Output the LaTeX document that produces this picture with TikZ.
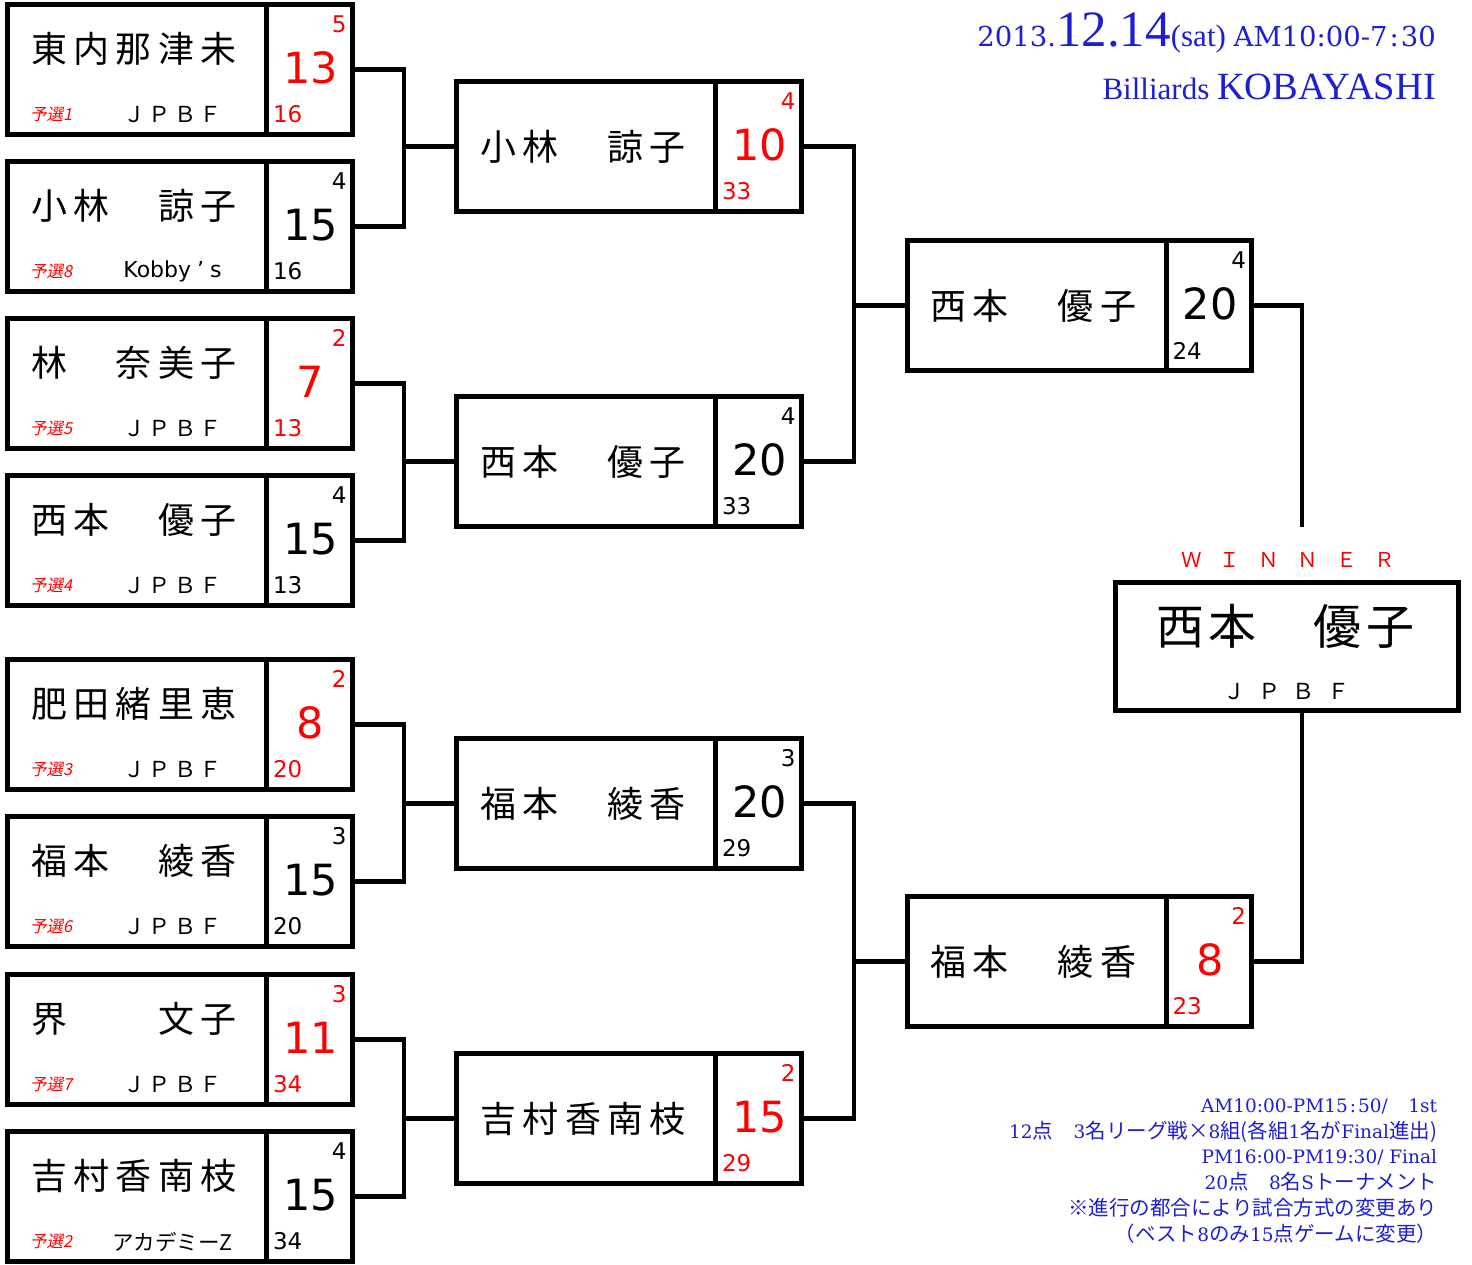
\documentclass[tikz,border=0pt]{standalone}
\usepackage{fontspec}
\setmainfont{Liberation Serif}
\newfontfamily\jp{Noto Sans CJK JP}
\newfontfamily\jpsl{Noto Sans CJK JP}[FakeSlant=0.2]
\newfontfamily\hs{DejaVu Serif}
\newfontfamily\dg{DejaVu Sans}
\usetikzlibrary{calc}
\definecolor{hred}{RGB}{255,0,0}
\definecolor{hblue}{RGB}{30,30,210}
\newcommand\fs[1]{\fontsize{#1}{#1}\selectfont}
\newcommand\nmcells[6]{\makebox[#1pt][l]{#2}\makebox[#1pt][l]{#3}\makebox[#1pt][l]{#4}\makebox[#1pt][l]{#5}\makebox[#1pt][l]{#6}}
\newcommand\lsp[5]{\makebox[#1pt]{#2}\makebox[#1pt]{#3}\makebox[#1pt]{#4}\makebox[#1pt]{#5}}
\tikzset{
  box/.style={draw, line width=5pt, inner sep=0pt, outer sep=0pt, minimum height=130pt},
  conn/.style={line width=4.5pt},
  txt/.style={inner sep=0pt, outer sep=0pt},
}
% #1 id, #2 left x, #3 top y, #4 name y offset, #5 name, #6 colour, #7 top num, #8 score, #9 bottom num
\newcommand\pB[9]{%
  \node[box, minimum width=259pt, anchor=north west] (#1) at (#2,#3) {};
  \node[box, minimum width=85.5pt, anchor=north west] (#1s) at (#2+259,#3) {};
  \node[txt, anchor=west, font=\jp\fs{36}] (#1n) at (#2+23.5,#3+#4) {#5};
  \node[txt, font=\dg\fs{43}, text=#6] (#1b) at (#2+303,#3+63.5) {#8};
  \node[txt, anchor=east, font=\dg\fs{23}, text=#6] (#1t) at (#2+339,#3+19.5) {#7};
  \node[txt, anchor=west, font=\dg\fs{23}, text=#6] (#1u) at (#2+265.5,#3+110) {#9};
}
% #1 id, #2 top, #3 name, #4 qualifier, #5 affiliation, #6 colour, #7 top, #8 score, #9 bottom
\newcommand\pA[9]{%
  \pB{#1}{7.5}{#2}{44}{#3}{#6}{#7}{#8}{#9}
  \node[txt, anchor=west, font=\jpsl\fs{16.5}, text=hred] (#1q) at (30,#2+110) {予選#4};
  \node[txt, font=\jp\fs{22}] (#1a) at (172.5,#2+110) {#5};
}
\begin{document}
\begin{tikzpicture}[x=1pt,y=-1pt]
\useasboundingbox (0,0) rectangle (1472,1265);
\fill[white] (0,0) rectangle (1472,1265);

% round 1
\pA{p1}{4.5}{\nmcells{42.5}{東}{内}{那}{津}{未}}{1}{\lsp{25.3}{Ｊ}{Ｐ}{Ｂ}{Ｆ}}{hred}{5}{13}{16}
\pA{p2}{161.5}{\nmcells{42.5}{小}{林}{　}{諒}{子}}{8}{\dg\fs{22}Kobby\makebox[19pt]{’}s}{black}{4}{15}{16}
\pA{p3}{318.5}{\nmcells{42.5}{林}{　}{奈}{美}{子}}{5}{\lsp{25.3}{Ｊ}{Ｐ}{Ｂ}{Ｆ}}{hred}{2}{7}{13}
\pA{p4}{475.5}{\nmcells{42.5}{西}{本}{　}{優}{子}}{4}{\lsp{25.3}{Ｊ}{Ｐ}{Ｂ}{Ｆ}}{black}{4}{15}{13}
\pA{p5}{659.5}{\nmcells{42.5}{肥}{田}{緒}{里}{恵}}{3}{\lsp{25.3}{Ｊ}{Ｐ}{Ｂ}{Ｆ}}{hred}{2}{8}{20}
\pA{p6}{816.5}{\nmcells{42.5}{福}{本}{　}{綾}{香}}{6}{\lsp{25.3}{Ｊ}{Ｐ}{Ｂ}{Ｆ}}{black}{3}{15}{20}
\pA{p7}{974.5}{\nmcells{42.5}{界}{　}{　}{文}{子}}{7}{\lsp{25.3}{Ｊ}{Ｐ}{Ｂ}{Ｆ}}{hred}{3}{11}{34}
\pA{p8}{1131.5}{\nmcells{42.5}{吉}{村}{香}{南}{枝}}{2}{\fs{21.5}アカデミーZ}{black}{4}{15}{34}

% round 2
\pB{q1}{456.5}{81.5}{65}{\nmcells{42.5}{小}{林}{　}{諒}{子}}{hred}{4}{10}{33}
\pB{q2}{456.5}{396.5}{65}{\nmcells{42.5}{西}{本}{　}{優}{子}}{black}{4}{20}{33}
\pB{q3}{456.5}{738.5}{65}{\nmcells{42.5}{福}{本}{　}{綾}{香}}{black}{3}{20}{29}
\pB{q4}{456.5}{1053.5}{65}{\nmcells{42.5}{吉}{村}{香}{南}{枝}}{hred}{2}{15}{29}

% round 3
\pB{r1}{907}{240.5}{65}{\nmcells{42.5}{西}{本}{　}{優}{子}}{black}{4}{20}{24}
\pB{r2}{907}{896.5}{65}{\nmcells{42.5}{福}{本}{　}{綾}{香}}{hred}{2}{8}{23}

% winner
\node[box, minimum width=343pt, minimum height=128pt, anchor=north west] (w) at (1115,582) {};
\node[txt, anchor=west, font=\jp\fs{48}] (wn) at (1156,626) {\nmcells{52.5}{西}{本}{　}{優}{子}};
\node[txt, font=\jp\fs{22}] (wa) at (1286.5,692) {\lsp{34.7}{Ｊ}{Ｐ}{Ｂ}{Ｆ}};
\node[txt, font=\jp\fs{20.5}, text=hred] (wl) at (1288.3,560) {\makebox[38.7pt]{Ｗ}\makebox[38.7pt]{Ｉ}\makebox[38.7pt]{Ｎ}\makebox[38.7pt]{Ｎ}\makebox[38.7pt]{Ｅ}\makebox[38.7pt]{Ｒ}};

% connectors
\coordinate (j1) at ($(q1.west)+(-52.5,0)$);
\coordinate (j2) at ($(q2.west)+(-52.5,0)$);
\coordinate (j3) at ($(q3.west)+(-52.5,0)$);
\coordinate (j4) at ($(q4.west)+(-52.5,0)$);
\coordinate (k1) at ($(r1.west)+(-53,0)$);
\coordinate (k2) at ($(r2.west)+(-53,0)$);
\coordinate (wt) at (1302,527);
\draw[conn] (p1s.east) -| (j1) |- (p2s.east); \draw[conn] (j1) -- (q1.west);
\draw[conn] (p3s.east) -| (j2) |- (p4s.east); \draw[conn] (j2) -- (q2.west);
\draw[conn] (p5s.east) -| (j3) |- (p6s.east); \draw[conn] (j3) -- (q3.west);
\draw[conn] (p7s.east) -| (j4) |- (p8s.east); \draw[conn] (j4) -- (q4.west);
\draw[conn] (q1s.east) -| (k1) |- (q2s.east); \draw[conn] (k1) -- (r1.west);
\draw[conn] (q3s.east) -| (k2) |- (q4s.east); \draw[conn] (k2) -- (r2.west);
\draw[conn] (r1s.east) -| (wt);
\draw[conn] (w.south -| wt) |- (r2s.east);

% header
\node[txt, anchor=base east, text=hblue] (h1) at (1436,47) {{\hs\fs{27.5}2013.}{\fs{51}12.14}{\fs{31}(sat) }{\hs\fs{27.5}AM10:00-7\kern2pt:\kern2pt30}};
\node[txt, anchor=base east, text=hblue] (h2) at (1436,100) {{\fs{31}Billiards }{\fs{38.5}KOBAYASHI}};

% notes
\begin{scope}[every node/.style={txt, anchor=base east, text=hblue, font=\hs\fs{18.5}}]
\node (n1) at (1437,1112) {AM10:00-PM15\kern2pt:\kern2pt50/{\jp\fs{20.5}　}1st};
\node (n2) at (1437,1138) {12{\jp\fs{20.5}点　}3{\jp\fs{20.5}名リーグ戦×}8{\jp\fs{20.5}組(各組}1{\jp\fs{20.5}名が}Final{\jp\fs{20.5}進出)}};
\node (n3) at (1437,1163) {PM16:00-PM19:30/ Final};
\node (n4) at (1437,1189) {20{\jp\fs{20.5}点　}8{\jp\fs{20.5}名}S{\jp\fs{20.5}トーナメント}};
\node (n5) at (1437,1215) {{\jp\fs{20.5}※進行の都合により試合方式の変更あり}};
\node (n6) at (1437,1241) {{\jp\fs{20.5}（ベスト}8{\jp\fs{20.5}のみ}15{\jp\fs{20.5}点ゲームに変更）}};
\end{scope}
\end{tikzpicture}
\end{document}
